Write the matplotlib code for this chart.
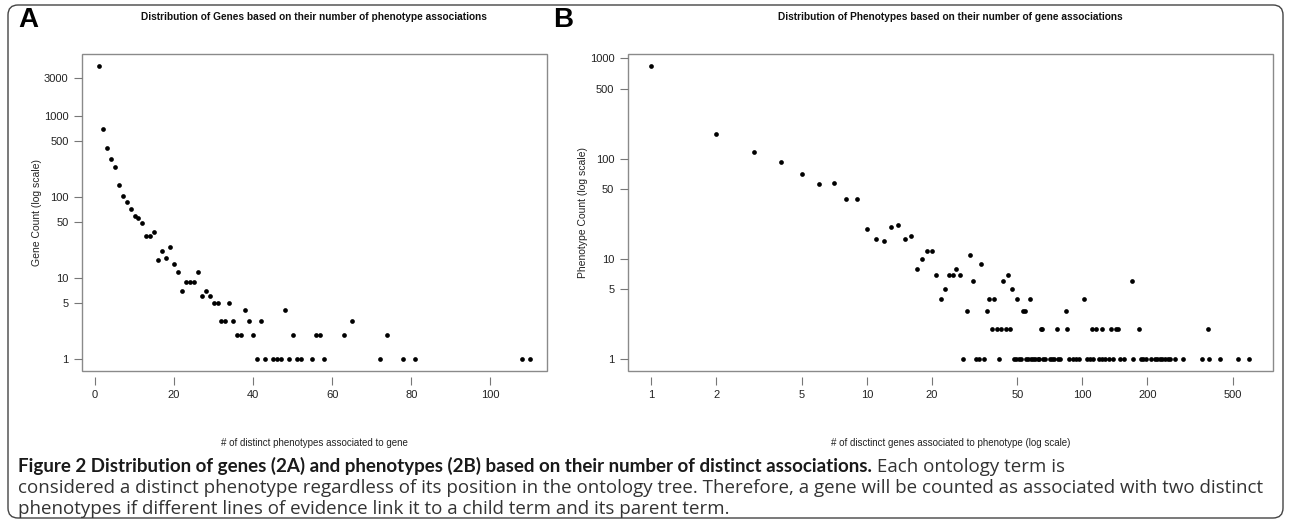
import numpy as np
import matplotlib
matplotlib.use('Agg')
import matplotlib.pyplot as plt
import matplotlib.patches as mpatch
import matplotlib.transforms as mtransforms

# panel A: genes by number of distinct phenotypes
genes_x = [1, 2, 3, 4, 5, 6, 7, 8, 9, 10, 11, 12, 13, 14, 15, 16, 17, 18,
           19, 20, 21, 22, 23, 24, 25, 26, 27, 28, 29, 30, 31, 32, 33, 34,
           35, 36, 37, 38, 39, 40, 41, 42, 43, 45, 46, 47, 48, 49, 50, 51,
           52, 55, 56, 57, 58, 63, 65, 72, 74, 78, 81, 108, 110]
genes_count = [4200, 690, 410, 300, 235, 140, 105, 87, 71, 58, 56, 48, 33,
               33, 37, 17, 22, 18, 24, 15, 12, 7, 9, 9, 9, 12, 6, 7, 6, 5, 5,
               3, 3, 5, 3, 2, 2, 4, 3, 2, 1, 3, 1, 1, 1, 1, 4, 1, 2, 1, 1, 1,
               2, 2, 1, 2, 3, 1, 2, 1, 1, 1, 1]

# panel B: phenotypes by number of distinct genes
phen_x = [1, 2, 3, 4, 5, 6, 7, 8, 9, 10, 11, 12, 13, 14, 15, 16, 17, 18, 19,
          20, 21, 22, 23, 24, 25, 26, 27, 28, 29, 30, 31, 32, 33, 34, 35, 36,
          37, 38, 39, 40, 41, 42, 43, 44, 45, 46, 47, 48, 49, 50, 51, 52, 53,
          54, 55, 56, 57, 58, 59, 60, 62, 63, 64, 65, 66, 67, 71, 72, 74, 76,
          77, 79, 84, 85, 87, 90, 93, 96, 102, 105, 108, 111, 112, 116, 119,
          123, 124, 128, 133, 136, 138, 144, 147, 150, 156, 170, 172, 184,
          187, 191, 197, 208, 218, 223, 229, 235, 242, 249, 255, 270, 293,
          359, 384, 389, 435, 525, 594]
phen_count = [845, 175, 117, 93, 71, 56, 57, 40, 40, 20, 16, 15, 21, 22, 16,
              17, 8, 10, 12, 12, 7, 4, 5, 7, 7, 8, 7, 1, 3, 11, 6, 1, 1, 9, 1,
              3, 4, 2, 4, 2, 1, 2, 6, 2, 7, 2, 5, 1, 1, 4, 1, 1, 3, 3, 1, 1, 4,
              1, 1, 1, 1, 1, 2, 2, 1, 1, 1, 1, 1, 2, 1, 1, 3, 2, 1, 1, 1, 1, 4,
              1, 1, 2, 1, 2, 1, 1, 2, 1, 1, 2, 1, 2, 2, 1, 1, 6, 1, 2, 1, 1, 1,
              1, 1, 1, 1, 1, 1, 1, 1, 1, 1, 1, 2, 1, 1, 1, 1]

ticks_a_x = [0, 20, 40, 60, 80, 100]
ticks_a_y = [1, 5, 10, 50, 100, 500, 1000, 3000]
ticks_b_x = [1, 2, 5, 10, 20, 50, 100, 200, 500]
ticks_b_y = [1, 5, 10, 50, 100, 500, 1000]

title_a = 'Distribution of Genes based on their number of phenotype associations'
title_b = 'Distribution of Phenotypes based on their number of gene associations'
xlabel_a = '# of distinct phenotypes associated to gene'
ylabel_a = 'Gene Count (log scale)'
xlabel_b = '# of disctinct genes associated to phenotype (log scale)'
ylabel_b = 'Phenotype Count (log scale)'

caption_bold = ('Figure 2 Distribution of genes (2A) and phenotypes (2B) based '
                'on their number of distinct associations.')
caption_lines = [' Each ontology term is',
                 'considered a distinct phenotype regardless of its position '
                 'in the ontology tree. Therefore, a gene will be counted as '
                 'associated with two distinct',
                 'phenotypes if different lines of evidence link it to a child '
                 'term and its parent term.']

W, H = 1290, 522
plt.rcParams['font.family'] = ['Liberation Sans', 'DejaVu Sans']


def px_rect(left, top, right, bottom):
    """axes rectangle from pixel edges (top-left origin)"""
    return [left / W, 1 - bottom / H, (right - left) / W, (bottom - top) / H]


def fit_size(text, family, weight, width, renderer):
    """font size at which text is width pixels wide"""
    probe = fig.text(0, 0, text, family=family, fontweight=weight,
                     fontsize=10)
    w = probe.get_window_extent(renderer).width
    probe.remove()
    return 10 * width / w


def style_axis(ax, xticks, yticks, xlab, ylab, ylab_x):
    ax.margins(0.04)
    for s in ax.spines.values():
        s.set_visible(False)
    # R-like box around the plot region
    box = mpatch.Rectangle((0, 0), 1, 1, transform=ax.transAxes, fill=False,
                           edgecolor='#8a8a8a', linewidth=1.0, clip_on=False)
    ax.add_patch(box)
    ax.spines['bottom'].set_position(('outward', 4))
    ax.set_xticks(xticks)
    ax.set_xticklabels([str(t) for t in xticks])
    ax.set_yticks(yticks)
    ax.set_yticklabels([str(t) for t in yticks])
    ax.minorticks_off()
    ax.tick_params(direction='out', length=5.5, width=0.8, color='#777777',
                   labelsize=8, labelcolor='#222222', pad=4)
    ax.set_xlabel(xlab, fontsize=7, color='#222222')
    ax.xaxis.set_label_coords(0.5, -0.227)
    ax.xaxis.label.set_va('center')
    ax.set_ylabel(ylab, fontsize=7.5, color='#222222')
    ax.yaxis.set_label_coords(ylab_x, 0.5)
    ax.yaxis.label.set_va('center')


fig = plt.figure(figsize=(W / 100, H / 100), dpi=100)

# --- panel A ---
ax_a = fig.add_axes(px_rect(81.7, 54, 547, 371))
ax_a.plot(genes_x, genes_count, 'o', color='black', ms=3.4, mew=0)
ax_a.set_yscale('log')
style_axis(ax_a, ticks_a_x, ticks_a_y, xlabel_a, ylabel_a, -0.096)

# --- panel B ---
ax_b = fig.add_axes(px_rect(627.5, 54, 1273, 371))
ax_b.plot(phen_x, phen_count, 'o', color='black', ms=3.4, mew=0)
ax_b.set_xscale('log')
ax_b.set_yscale('log')
style_axis(ax_b, ticks_b_x, ticks_b_y, xlabel_b, ylabel_b, -0.069)

# titles and panel letters
for ax, title in ((ax_a, title_a), (ax_b, title_b)):
    pos = ax.get_position()
    fig.text((pos.x0 + pos.x1) / 2, 1 - 17 / H, title, ha='center',
             va='center', fontsize=7.3, fontweight='bold', color='#111111')
fig.text(18 / W, 1 - 27 / H, 'A', fontsize=20, fontweight='bold',
         va='baseline')
fig.text(553 / W, 1 - 27 / H, 'B', fontsize=20, fontweight='bold',
         va='baseline')

# caption: regular text sized so line two fills the frame,
# narrower bold lead-in sized to its own width
renderer = fig.canvas.get_renderer()
reg_font = ['Open Sans', 'DejaVu Sans']
bold_font = ['Lato', 'DejaVu Sans']
reg_size = fit_size(caption_lines[1], reg_font, 'normal', 1247, renderer)
bold_size = fit_size(caption_bold, bold_font, 'bold', 858, renderer)

t_bold = fig.text(18 / W, 1 - 472 / H, caption_bold, family=bold_font,
                  fontsize=bold_size, fontweight='bold', va='baseline',
                  color='#1a1a1a')
bb = t_bold.get_window_extent(renderer)
fig.text(bb.x1 / W, 1 - 472 / H, caption_lines[0], family=reg_font,
         fontsize=reg_size, va='baseline', color='#333333')
fig.text(18 / W, 1 - 493 / H, caption_lines[1], family=reg_font,
         fontsize=reg_size, va='baseline', color='#333333')
fig.text(18 / W, 1 - 514 / H, caption_lines[2], family=reg_font,
         fontsize=reg_size, va='baseline', color='#333333')

# rounded frame around the whole figure
frame = mpatch.FancyBboxPatch((8, H - 518), 1275, 513,
                              boxstyle='round,pad=0,rounding_size=10',
                              transform=mtransforms.IdentityTransform(),
                              fill=False, edgecolor='#444444', linewidth=1.0)
fig.patches.append(frame)

fig.savefig('out.png', dpi=100)
